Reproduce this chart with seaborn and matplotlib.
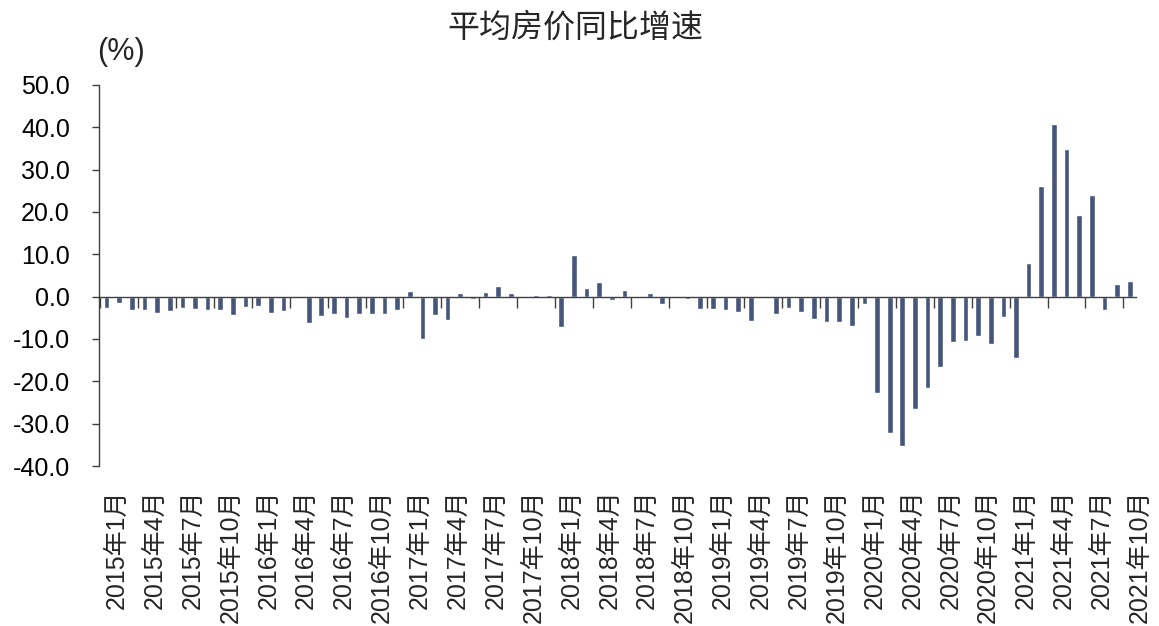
import numpy as np
import pandas as pd
import matplotlib
matplotlib.use("Agg")
import matplotlib.pyplot as plt
import matplotlib.transforms as mtransforms
import seaborn as sns

# Monthly categories, Jan 2015 through Oct 2021
months = [f"{y}年{m}月" for y in range(2015, 2022) for m in range(1, 13)][:82]

# Year-on-year growth of the average house price (%)
growth = [
    -2.6, -1.6, -3.1, -3.1, -3.9, -3.5, -2.7, -2.8, -3.2, -3.1, -4.3, -2.4,   # 2015
    -2.3, -3.8, -3.3, -0.3, -6.3, -4.6, -4.2, -5.0, -4.2, -4.2, -4.2, -3.1,   # 2016
    1.4, -10.0, -4.4, -5.6, 0.9, -0.6, 1.1, 2.5, 0.8, 0.0, 0.4, 0.4,          # 2017
    -7.2, 9.8, 2.1, 3.5, -0.7, 1.5, 0.0, 0.9, -1.8, 0.2, -0.5, -2.8,          # 2018
    -2.8, -3.1, -3.7, -5.8, 0.0, -4.2, -2.6, -3.7, -5.3, -6.0, -6.1, -6.9,    # 2019
    -1.7, -22.8, -32.2, -35.2, -26.6, -21.5, -16.5, -10.7, -10.5, -9.3, -11.2, -4.8,  # 2020
    -14.6, 7.9, 26.2, 40.9, 34.8, 19.3, 24.1, -3.1, 3.0, 3.7,                 # 2021
]

title = "平均房价同比增速"
unit = "(%)"
yticks = np.arange(-40, 51, 10)

BAR = "#46557A"
AXIS = "#404040"

sns.set_style("white")
plt.rcParams["font.family"] = ["Liberation Sans", "Noto Sans CJK SC"]

W, H = 1159, 626
fig = plt.figure(figsize=(W / 100, H / 100), dpi=100)
ax = fig.add_axes([99 / W, 1 - 466 / H, (1136 - 99) / W, (466 - 85) / H])

df = pd.DataFrame({"month": months, "growth": growth})
sns.barplot(data=df, x="month", y="growth", color=BAR, saturation=1,
            width=0.45, ax=ax)

ax.set_xlim(-0.6, 81.5)
ax.set_ylim(-40, 50)
ax.set_xlabel("")
ax.set_ylabel("")

# value axis
ax.set_yticks(yticks)
ax.set_yticklabels([f"{v:.1f}" for v in yticks])
ax.tick_params(axis="y", direction="out", length=5, width=1, color=AXIS,
               pad=16, labelsize=18, labelcolor="black", left=True)

# category axis line crosses at zero, ticks every three months
for s in ("top", "right"):
    ax.spines[s].set_visible(False)
ax.spines["left"].set_color(AXIS)
ax.spines["left"].set_linewidth(1)
ax.spines["bottom"].set_position(("data", 0))
ax.spines["bottom"].set_color(AXIS)
ax.spines["bottom"].set_linewidth(1)
ax.set_xticks(np.arange(-0.5, 81, 3))
ax.tick_params(axis="x", direction="out", length=8, width=1, color=AXIS,
               labelbottom=False, bottom=True)

# month labels sit below the plot area
sec = ax.secondary_xaxis(0)
idx = list(range(0, len(months), 3))
sec.set_xticks(idx, [months[i] for i in idx])
sec.tick_params(axis="x", length=0, pad=17, labelsize=18, rotation=90)
sec.spines["bottom"].set_visible(False)
shift = mtransforms.ScaledTranslation(10 / 100, 0, fig.dpi_scale_trans)
for lbl in sec.get_xticklabels():
    lbl.set_transform(lbl.get_transform() + shift)

fig.text(575 / W, 1 - 28 / H, title, ha="center", va="center", fontsize=23,
         family=["Noto Sans CJK SC", "DejaVu Sans"])
fig.text(121 / W, 1 - 52 / H, unit, ha="center", va="center", fontsize=22)

fig.savefig("out.png", dpi=100)
